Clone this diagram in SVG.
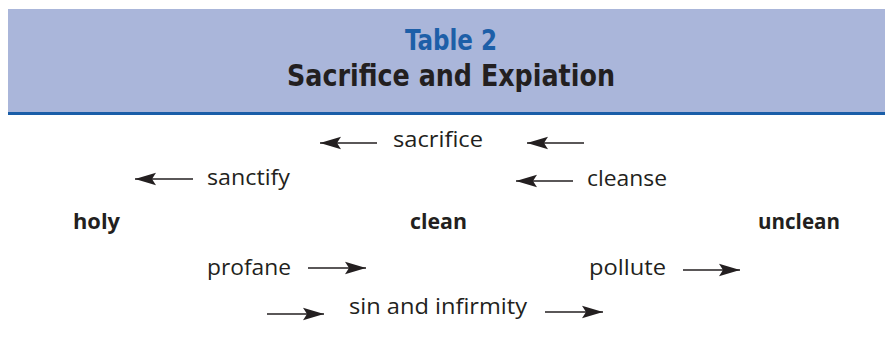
<svg xmlns="http://www.w3.org/2000/svg" width="885" height="338" viewBox="0 0 885 338">
<style>
.t{font-family:"Open Sans","Noto Sans","DejaVu Sans",sans-serif;font-size:22px;fill:#231f20}
.b{font-family:"Open Sans","Noto Sans","DejaVu Sans",sans-serif;font-size:22px;font-weight:bold;fill:#231f20}
.h{font-family:"DejaVu Sans Condensed","Open Sans",sans-serif;font-weight:bold;text-anchor:middle}
.ln{stroke:#231f20;stroke-width:1.7;fill:none}
</style>
<defs>
<marker id="ah" markerWidth="22" markerHeight="14" viewBox="0 0 22 14" refX="21" refY="7" orient="auto" markerUnits="userSpaceOnUse">
<path d="M0,0.8 L21,7 L0,13.2 L4,7 Z" fill="#231f20"/>
</marker>
</defs>
<rect width="885" height="338" fill="#ffffff"/>
<g id="header">
<rect x="8" y="9" width="877" height="103" fill="#aab6da"/>
<rect x="8" y="112" width="877" height="3" fill="#1a5ea8"/>
<text class="h" x="451" y="50" font-size="28" fill="#1d5fa8" textLength="92" lengthAdjust="spacingAndGlyphs">Table 2</text>
<text class="h" x="451" y="86" font-size="31" fill="#231f20" textLength="328" lengthAdjust="spacingAndGlyphs">Sacrifice and Expiation</text>
</g>
<g id="connectors">
<line class="ln" x1="377" y1="143" x2="320" y2="143" marker-end="url(#ah)"/>
<line class="ln" x1="584" y1="143" x2="527" y2="143" marker-end="url(#ah)"/>
<line class="ln" x1="193" y1="179" x2="135" y2="179" marker-end="url(#ah)"/>
<line class="ln" x1="573" y1="181" x2="516" y2="181" marker-end="url(#ah)"/>
<line class="ln" x1="308" y1="268" x2="366" y2="268" marker-end="url(#ah)"/>
<line class="ln" x1="683" y1="270" x2="740" y2="270" marker-end="url(#ah)"/>
<line class="ln" x1="267" y1="314" x2="324" y2="314" marker-end="url(#ah)"/>
<line class="ln" x1="545" y1="312" x2="603" y2="312" marker-end="url(#ah)"/>
</g>
<g id="node-holy"><text class="b" x="73" y="229" textLength="47" lengthAdjust="spacingAndGlyphs">holy</text></g>
<g id="node-clean"><text class="b" x="410" y="229" textLength="57" lengthAdjust="spacingAndGlyphs">clean</text></g>
<g id="node-unclean"><text class="b" x="758" y="229" textLength="82" lengthAdjust="spacingAndGlyphs">unclean</text></g>
<g id="label-sacrifice"><text class="t" x="393" y="147" textLength="90" lengthAdjust="spacingAndGlyphs">sacrifice</text></g>
<g id="label-sanctify"><text class="t" x="207" y="185" textLength="83" lengthAdjust="spacingAndGlyphs">sanctify</text></g>
<g id="label-cleanse"><text class="t" x="587" y="186" textLength="80" lengthAdjust="spacingAndGlyphs">cleanse</text></g>
<g id="label-profane"><text class="t" x="207" y="275" textLength="84" lengthAdjust="spacingAndGlyphs">profane</text></g>
<g id="label-pollute"><text class="t" x="589" y="275" textLength="77" lengthAdjust="spacingAndGlyphs">pollute</text></g>
<g id="label-sin"><text class="t" x="349" y="314" textLength="178" lengthAdjust="spacingAndGlyphs">sin and infirmity</text></g>
</svg>
